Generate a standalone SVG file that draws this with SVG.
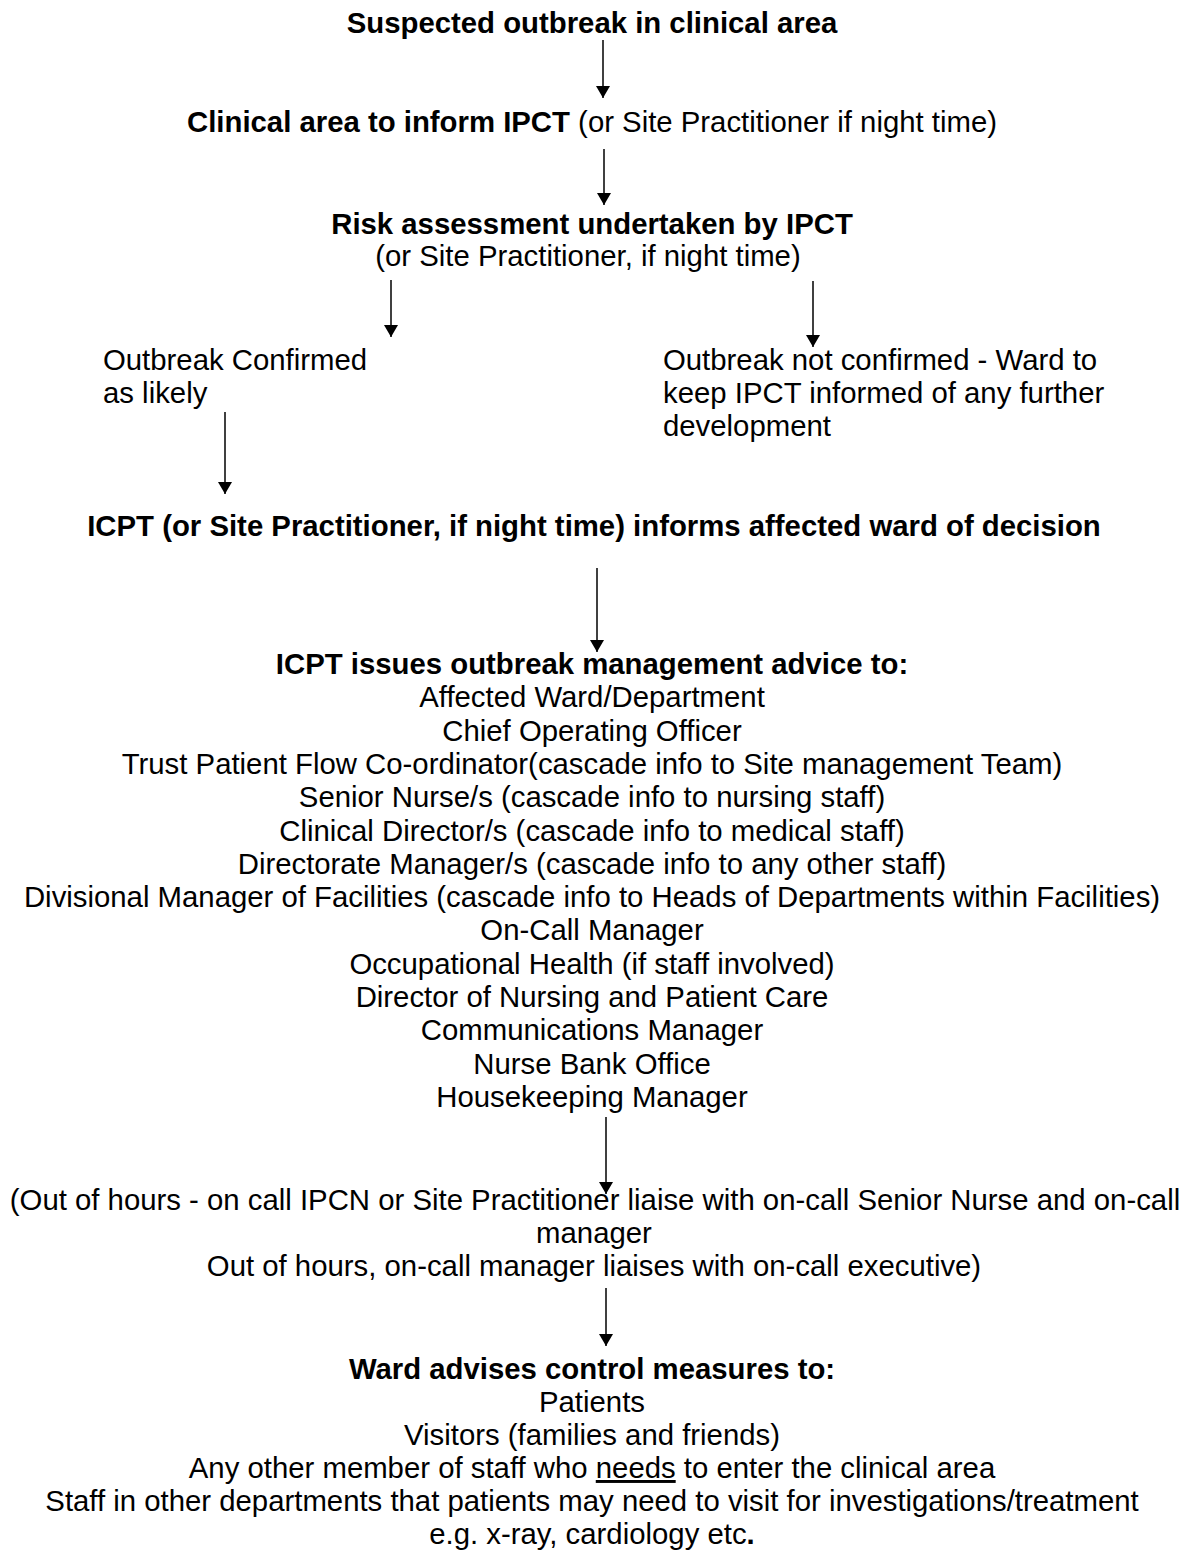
<svg xmlns="http://www.w3.org/2000/svg" width="1189" height="1551" viewBox="0 0 1189 1551">
<style>
text{font-family:"Liberation Sans",Arial,sans-serif;font-size:29.33px;fill:#000}
.c{text-anchor:middle}
.b{font-weight:bold}
.n{font-weight:normal}
.ln{stroke:#000;stroke-width:1.5;fill:none}
</style>
<defs>
<marker id="ah" markerWidth="12" markerHeight="14" refX="12" refY="7" orient="auto" markerUnits="userSpaceOnUse">
<path d="M0,0 L12,7 L0,14 Z" fill="#000"/>
</marker>
</defs>
<rect width="1189" height="1551" fill="#fff"/>
<g id="connectors">
<line class="ln" x1="603" y1="40" x2="603" y2="98" marker-end="url(#ah)"/>
<line class="ln" x1="604" y1="149" x2="604" y2="205" marker-end="url(#ah)"/>
<line class="ln" x1="391" y1="280" x2="391" y2="337" marker-end="url(#ah)"/>
<line class="ln" x1="813" y1="281" x2="813" y2="347" marker-end="url(#ah)"/>
<line class="ln" x1="225" y1="412" x2="225" y2="494" marker-end="url(#ah)"/>
<line class="ln" x1="597" y1="568" x2="597" y2="652" marker-end="url(#ah)"/>
<line class="ln" x1="606" y1="1117" x2="606" y2="1194" marker-end="url(#ah)"/>
<line class="ln" x1="606" y1="1288" x2="606" y2="1346" marker-end="url(#ah)"/>
</g>
<g id="n1"><text class="c b" x="592" y="33">Suspected outbreak in clinical area</text></g>
<g id="n2"><text class="c" x="592" y="132"><tspan class="b">Clinical area to inform IPCT</tspan> (or Site Practitioner if night time)</text></g>
<g id="n3">
<text class="c b" x="592" y="234">Risk assessment undertaken by IPCT</text>
<text class="c" x="588" y="266">(or Site Practitioner, if night time)</text>
</g>
<g id="n4">
<text x="103" y="370">Outbreak Confirmed</text>
<text x="103" y="403">as likely</text>
</g>
<g id="n5">
<text x="663" y="370">Outbreak not confirmed - Ward to</text>
<text x="663" y="403">keep IPCT informed of any further</text>
<text x="663" y="436">development</text>
</g>
<g id="n6"><text class="c b" x="594" y="536">ICPT (or Site Practitioner, if night time) informs affected ward of decision</text></g>
<g id="n7">
<text class="c b" x="592" y="674">ICPT issues outbreak management advice to:</text>
<text class="c" x="592" y="707.3">Affected Ward/Department</text>
<text class="c" x="592" y="740.6">Chief Operating Officer</text>
<text class="c" x="592" y="773.9">Trust Patient Flow Co-ordinator(cascade info to Site management Team)</text>
<text class="c" x="592" y="807.2">Senior Nurse/s (cascade info to nursing staff)</text>
<text class="c" x="592" y="840.5">Clinical Director/s (cascade info to medical staff)</text>
<text class="c" x="592" y="873.8">Directorate Manager/s (cascade info to any other staff)</text>
<text class="c" x="592" y="907.1">Divisional Manager of Facilities (cascade info to Heads of Departments within Facilities)</text>
<text class="c" x="592" y="940.4">On-Call Manager</text>
<text class="c" x="592" y="973.7">Occupational Health (if staff involved)</text>
<text class="c" x="592" y="1007">Director of Nursing and Patient Care</text>
<text class="c" x="592" y="1040.3">Communications Manager</text>
<text class="c" x="592" y="1073.6">Nurse Bank Office</text>
<text class="c" x="592" y="1106.9">Housekeeping Manager</text>
</g>
<g id="n8">
<text class="c" x="595" y="1210">(Out of hours - on call IPCN or Site Practitioner liaise with on-call Senior Nurse and on-call</text>
<text class="c" x="594" y="1243">manager</text>
<text class="c" x="594" y="1276">Out of hours, on-call manager liaises with on-call executive)</text>
</g>
<g id="n9">
<text class="c b" x="592" y="1379">Ward advises control measures to:</text>
<text class="c" x="592" y="1412">Patients</text>
<text class="c" x="592" y="1445">Visitors (families and friends)</text>
<text class="c" x="592" y="1478">Any other member of staff who <tspan text-decoration="underline">needs</tspan> to enter the clinical area</text>
<text class="c" x="592" y="1511">Staff in other departments that patients may need to visit for investigations/treatment</text>
<text class="c" x="592" y="1544">e.g. x-ray, cardiology etc<tspan class="b">.</tspan></text>
</g>
</svg>
